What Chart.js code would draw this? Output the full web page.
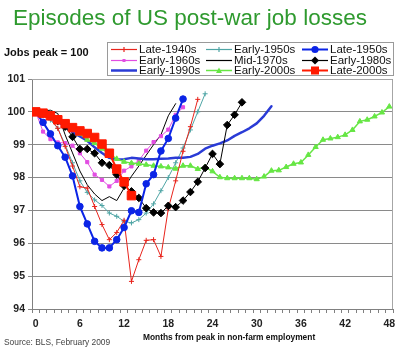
<!DOCTYPE html>
<html>
<head>
<meta charset="utf-8">
<script src="https://cdn.jsdelivr.net/npm/chart.js@4.4.1/dist/chart.umd.min.js"></script>
<style>
  html, body { margin: 0; padding: 0; background: #fff; }
  #wrap { position: relative; width: 400px; height: 348px; overflow: hidden; font-family: "Liberation Sans", Arial, sans-serif; }
  #chart { position: absolute; left: 0; top: 0; }
  .title { position: absolute; left: 13px; top: 6px; font-size: 22.5px; line-height: 24px; color: #2f9a2f; white-space: nowrap; }
  .ylab { position: absolute; left: 4px; top: 47px; font-size: 11px; font-weight: bold; line-height: 11px; color: #111; white-space: nowrap; }
  .legend { position: absolute; left: 107px; top: 42px; width: 285px; height: 32px; border: 1px solid #9a9a9a; background: #fff; }
  .item { position: absolute; height: 11px; width: 95px; font-size: 11.5px; line-height: 11px; color: #111; white-space: nowrap; }
  .item svg { position: absolute; left: 0; top: 0; }
  .item span { position: absolute; left: 28px; top: 0; }
  .xlab { position: absolute; left: 143px; top: 332px; font-size: 8.4px; line-height: 10px; font-weight: bold; color: #111; white-space: nowrap; }
  .source { position: absolute; left: 4px; top: 337px; font-size: 8.4px; line-height: 10px; color: #444; white-space: nowrap; }
</style>
</head>
<body>
<div id="wrap">
  <canvas id="chart" width="400" height="348"></canvas>
  <div class="title">Episodes of US post-war job losses</div>
  <div class="ylab">Jobs peak = 100</div>
  <div class="legend" id="legend"></div>
  <div class="xlab">Months from peak in non-farm employment</div>
  <div class="source">Source: BLS, February 2009</div>
</div>
<script>
// months from peak
const months = [0, 1, 2, 3, 4, 5, 6, 7, 8, 9, 10, 11, 12, 13, 14, 15, 16, 17, 18, 19, 20,
  21, 22, 23, 24, 25, 26, 27, 28, 29, 30, 31, 32, 33, 34, 35, 36, 37, 38, 39, 40,
  41, 42, 43, 44, 45, 46, 47, 48];
const xTickLabels = [0, 6, 12, 18, 24, 30, 36, 42, 48];

// jobs index, peak = 100
const late1940s = [100, 99.95, 99.8, 99.5, 98.95, 98.35, 97.72, 97.68, 97.12, 96.57, 96.11,
  96.33, 96.7, 94.84, 95.5, 96.09, 96.11, 95.6, 97.05, 97.9, 98.8, 99.55, 100.38];
const early1950s = [100, 99.9, 99.75, 99.5, 99.0, 98.45, 97.9, 97.55, 97.32, 97.15, 96.92,
  96.82, 96.67, 96.62, 96.72, 96.92, 97.2, 97.6, 98.0, 98.45, 98.9, 99.45, 100.0, 100.55];
const late1950s = [100, 99.68, 99.33, 98.97, 98.62, 98.05, 97.12, 96.59, 96.06, 95.86, 95.86,
  96.11, 96.48, 96.99, 96.94, 97.81, 98.09, 98.81, 99.19, 99.81, 100.39];
const early1960s = [100, 99.4, 99.17, 99.07, 99.05, 98.97, 98.74, 98.47, 98.09, 97.93, 97.73,
  97.9, 98.21, 98.34, 98.52, 98.82, 99.08, 99.26, 99.46, 99.91, 100.14];
const mid1970s = [100, 100.03, 100.05, 99.95, 99.3, 98.75, 98.2, 97.78, 97.5, 97.3, 97.42,
  97.3, 97.68, 98.04, 98.35, 98.68, 99.0, 99.3, 99.88, 100.25];
const early1980s = [100, 99.95, 99.87, 99.72, 99.55, 99.24, 98.87, 98.87, 98.74, 98.45, 98.38,
  98.09, 97.75, 97.58, 97.38, 97.07, 96.94, 96.92, 97.14, 97.1, 97.3, 97.56, 97.87, 98.29,
  98.72, 98.41, 99.6, 99.91, 100.29];
const early1990s = [100, 99.95, 99.82, 99.7, 99.55, 99.38, 99.25, 99.12, 98.92, 98.75, 98.6,
  98.55, 98.56, 98.6, 98.58, 98.56, 98.56, 98.57, 98.58, 98.6, 98.6, 98.63, 98.72, 98.88,
  98.97, 99.04, 99.13, 99.27, 99.38, 99.5, 99.65, 99.88, 100.17];
const early2000s = [100, 99.97, 99.9, 99.78, 99.65, 99.5, 99.33, 99.15, 99.05, 98.88, 98.72,
  98.57, 98.48, 98.44, 98.42, 98.39, 98.36, 98.34, 98.31, 98.27, 98.36, 98.36, 98.26, 98.32,
  98.19, 98.01, 97.98, 97.98, 97.98, 97.98, 97.95, 98.03, 98.21, 98.22, 98.32, 98.42, 98.46,
  98.69, 98.93, 99.15, 99.19, 99.23, 99.3, 99.45, 99.71, 99.76, 99.86, 99.98, 100.16];
const late2000s = [100, 99.96, 99.88, 99.76, 99.64, 99.52, 99.42, 99.34, 99.22, 99.02, 98.74,
  98.26, 97.87, 97.45];

const seriesNames = ['Late-1940s', 'Early-1950s', 'Late-1950s', 'Early-1960s', 'Mid-1970s',
  'Early-1980s', 'Early-1990s', 'Early-2000s', 'Late-2000s'];
const seriesData = [late1940s, early1950s, late1950s, early1960s, mid1970s,
  early1980s, early1990s, early2000s, late2000s];

// look of each series (line colour, width, marker)
const looks = [
  { color: '#e8241c', width: 1, point: 'cross', r: 2.5, order: 3 },
  { color: '#4fa5a5', width: 1, point: 'cross', r: 2.5, order: 8 },
  { color: '#0b24e6', width: 2, point: 'circle', r: 3.3, order: 1 },
  { color: '#e24de2', width: 1, point: 'rect', r: 2.2, order: 6 },
  { color: '#000000', width: 1, point: false, r: 0, order: 7 },
  { color: '#000000', width: 1, point: 'rectRot', r: 3.8, order: 2 },
  { color: '#2a3bd6', width: 2.5, point: false, r: 0, order: 5 },
  { color: '#66e644', width: 1.5, point: 'triangle', r: 3, order: 4 },
  { color: '#ff1a00', width: 2, point: 'rect', r: 6, order: 0 },
];

const datasets = seriesNames.map((name, i) => {
  const lk = looks[i];
  return {
    label: name,
    data: seriesData[i],
    borderColor: lk.color,
    backgroundColor: lk.color,
    borderWidth: lk.width,
    pointStyle: lk.point,
    pointRadius: lk.r,
    pointBackgroundColor: lk.color,
    pointBorderColor: lk.color,
    pointBorderWidth: 1,
    tension: 0,
    fill: false,
    order: lk.order,
  };
});

// html legend, 3 columns
const markerSvg = {
  cross: c => `<path d="M10.5 5.5H15.5M13 3V8" stroke="${c}" stroke-width="1.2"/>`,
  circle: c => `<circle cx="13" cy="5.5" r="3.6" fill="${c}"/>`,
  rect: (c, big) => big ? `<rect x="9" y="1.5" width="8" height="8" fill="${c}"/>`
                        : `<rect x="11.5" y="4" width="3" height="3" fill="${c}"/>`,
  rectRot: c => `<polygon points="13,1.5 17,5.5 13,9.5 9,5.5" fill="${c}"/>`,
  triangle: c => `<polygon points="13,2.5 16,8 10,8" fill="${c}"/>`,
};
const legendEl = document.getElementById('legend');
const colX = [3, 98, 194];
const rowY = [1, 11.5, 22];
seriesNames.forEach((name, i) => {
  const lk = looks[i];
  let mk = '';
  if (lk.point) mk = markerSvg[lk.point](lk.color, lk.r > 5);
  const item = document.createElement('div');
  item.className = 'item';
  item.style.left = colX[i % 3] + 'px';
  item.style.top = rowY[Math.floor(i / 3)] + 'px';
  item.innerHTML = `<svg width="26" height="11"><line x1="0" y1="5.5" x2="26" y2="5.5" stroke="${lk.color}" stroke-width="${Math.max(lk.width, 1.2)}"/>${mk}</svg><span>${name}</span>`;
  legendEl.appendChild(item);
});

// grey frame round the plot area
const plotFrame = {
  id: 'plotFrame',
  beforeDatasetsDraw(chart) {
    const { ctx, chartArea: a } = chart;
    ctx.save();
    ctx.strokeStyle = '#a6a6a6';
    ctx.lineWidth = 1;
    ctx.beginPath();
    ctx.moveTo(a.left, Math.round(a.top) + 0.5);
    ctx.lineTo(Math.round(a.right) - 0.5, Math.round(a.top) + 0.5);
    ctx.lineTo(Math.round(a.right) - 0.5, a.bottom);
    ctx.stroke();
    ctx.restore();
  }
};

Chart.defaults.font.family = '"Liberation Sans", Arial, sans-serif';

new Chart(document.getElementById('chart'), {
  type: 'line',
  data: { labels: months, datasets: datasets },
  options: {
    responsive: false,
    animation: false,
    layout: { padding: { top: 79, right: 7, left: 0, bottom: 0 } },
    plugins: { legend: { display: false }, tooltip: { enabled: false } },
    elements: { line: { borderCapStyle: 'round', borderJoinStyle: 'round' } },
    scales: {
      x: {
        type: 'linear',
        min: -0.5,
        max: 48.5,
        afterFit: s => { s.height = 39; },
        afterBuildTicks: s => {
          s.ticks = months.map(m => ({ value: m - 0.5 })).concat([{ value: 48.5 }]);
        },
        grid: { drawOnChartArea: false, tickLength: 4, color: '#808080' },
        border: { color: '#808080' },
        ticks: {
          autoSkip: false,
          maxRotation: 0,
          labelOffset: 3.7,
          padding: 5,
          color: '#222',
          font: { size: 10.5, weight: 'bold' },
          callback: v => xTickLabels.includes(v + 0.5) ? String(v + 0.5) : '',
        },
      },
      y: {
        min: 94,
        max: 101,
        afterFit: s => { s.width = 32; },
        grid: { color: '#8a8a8a', tickLength: 4 },
        border: { color: '#808080' },
        ticks: {
          stepSize: 1,
          padding: 3,
          color: '#222',
          font: { size: 10.5, weight: 'bold' },
        },
      },
    },
  },
  plugins: [plotFrame],
});
</script>
</body>
</html>
